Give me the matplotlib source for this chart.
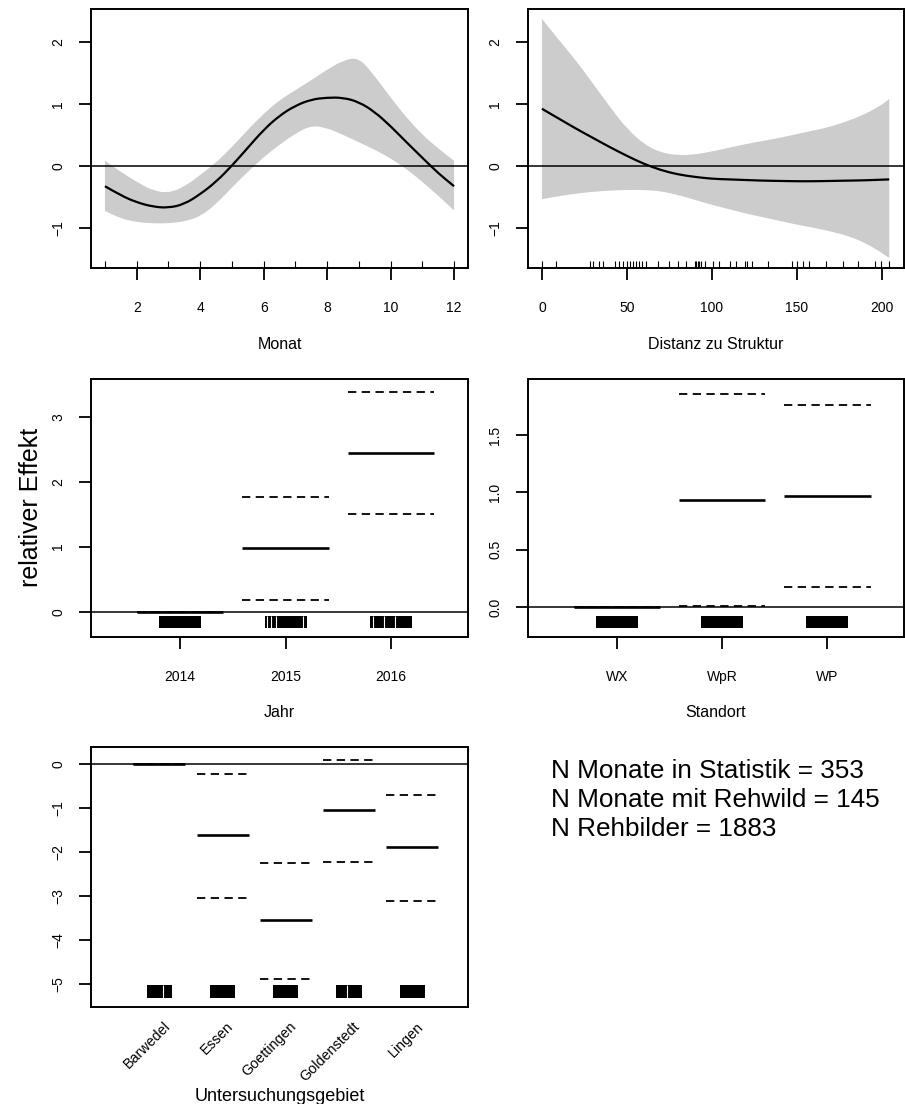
import matplotlib
matplotlib.use("Agg")
import matplotlib.pyplot as plt
from matplotlib.patches import Rectangle, PathPatch
from matplotlib.path import Path
from matplotlib.transforms import blended_transform_factory, ScaledTranslation

plt.rcParams['font.family'] = ['Liberation Sans', 'DejaVu Sans']

# --- Monat (smooth term) ---
monat_x = [1, 1.5, 2, 2.5, 3, 3.5, 4, 4.5, 5, 5.5, 6, 6.5, 7, 7.5, 8, 8.5,
           9, 9.5, 10, 10.5, 11, 11.5, 12]
monat_fit = [-0.33, -0.48, -0.59, -0.66, -0.68, -0.62, -0.46, -0.26, 0.00, 0.29,
             0.58, 0.81, 0.97, 1.07, 1.10, 1.10, 1.03, 0.87, 0.64, 0.38, 0.13,
             -0.12, -0.33]
monat_hi = [0.08, -0.10, -0.26, -0.40, -0.44, -0.34, -0.15, 0.05, 0.30, 0.58,
            0.84, 1.06, 1.22, 1.38, 1.55, 1.70, 1.75, 1.45, 1.10, 0.78, 0.50,
            0.28, 0.08]
monat_lo = [-0.73, -0.85, -0.91, -0.93, -0.93, -0.90, -0.82, -0.62, -0.35, -0.10,
            0.14, 0.34, 0.52, 0.65, 0.61, 0.50, 0.38, 0.26, 0.12, -0.05, -0.26,
            -0.48, -0.72]
monat_rug = [1, 2, 3, 4, 5, 6, 7, 8, 9, 10, 11, 12]

# --- Distanz zu Struktur (smooth term) ---
dist_x = [0, 10, 20, 30, 40, 50, 60, 70, 80, 90, 100, 110, 120, 130, 140,
          150, 160, 170, 180, 190, 200, 204.5]
dist_fit = [0.92, 0.76, 0.60, 0.45, 0.30, 0.16, 0.03, -0.07, -0.14, -0.18, -0.21,
            -0.22, -0.23, -0.24, -0.245, -0.25, -0.25, -0.245, -0.24, -0.235,
            -0.225, -0.22]
dist_hi = [2.37, 2.03, 1.70, 1.33, 0.95, 0.60, 0.35, 0.21, 0.17, 0.18, 0.23,
           0.29, 0.35, 0.40, 0.45, 0.51, 0.57, 0.63, 0.72, 0.83, 0.98, 1.08]
dist_lo = [-0.54, -0.49, -0.45, -0.42, -0.40, -0.39, -0.39, -0.41, -0.47, -0.55,
           -0.63, -0.70, -0.77, -0.83, -0.89, -0.95, -1.00, -1.06, -1.13, -1.24,
           -1.40, -1.49]
dist_rug = [0, 8.4, 28.5, 30, 33.4, 35.8, 43.2, 45.6, 47.5, 50.1, 51.8, 53.4,
            55.3, 57.3, 59.2, 61.2, 68.4, 74.9, 80.3, 84.7, 90.1, 90.9, 91.7,
            92.5, 93.5, 96.0, 100.7, 104.2, 110.5, 114.0, 119.5, 120.8, 123.8,
            133.1, 147.2, 150.1, 153.7, 157.4, 167.4, 177.2, 186.3, 196.1,
            199.6, 204.5]

# --- Jahr (factor) ---
jahr_levels = ['2014', '2015', '2016']
jahr_fit = [0.0, 0.975, 2.44]
jahr_hi = [0.0, 1.77, 3.38]
jahr_lo = [0.0, 0.18, 1.50]
jahr_gaps = [[], [-0.175, -0.142, -0.095, 0.167], [-0.17, -0.07, 0.04]]

# --- Standort (factor) ---
stand_levels = ['WX', 'WpR', 'WP']
stand_fit = [0.0, 0.935, 0.968]
stand_hi = [0.0, 1.86, 1.766]
stand_lo = [0.0, 0.008, 0.174]
stand_gaps = [[], [], []]

# --- Untersuchungsgebiet (factor) ---
gebiet_levels = ['Barwedel', 'Essen', 'Goettingen', 'Goldenstedt', 'Lingen']
gebiet_fit = [0.0, -1.62, -3.55, -1.05, -1.89]
gebiet_hi = [0.0, -0.22, -2.24, 0.09, -0.70]
gebiet_lo = [0.0, -3.04, -4.89, -2.23, -3.11]
gebiet_gaps = [[0.06], [], [], [-0.04], []]

stats_lines = ['N Monate in Statistik = 353',
               'N Monate mit Rehwild = 145',
               'N Rehbilder = 1883']

W, H = 905, 1104
fig = plt.figure(figsize=(W / 100, H / 100), dpi=100)


def panel(l, t, r, b):
    ax = fig.add_axes([l / W, 1 - b / H, (r - l) / W, (b - t) / H])
    for s in ax.spines.values():
        s.set_linewidth(1.4)
    ax.tick_params(length=8.6, width=1.3, labelsize=10, color='black')
    ax.tick_params(axis='y', labelrotation=90, pad=10)
    ax.tick_params(axis='x', pad=15)
    return ax


def fix_ylabels(ax):
    for lab in ax.get_yticklabels():
        lab.set_va('center')


def curve(x, y, first=True):
    # quadratic bezier through midpoints -> smooth curve in data coordinates
    pts = list(zip(x, y))
    verts = [pts[0]]
    codes = [Path.MOVETO if first else Path.LINETO]
    for i in range(1, len(pts) - 1):
        mid = ((pts[i][0] + pts[i + 1][0]) / 2, (pts[i][1] + pts[i + 1][1]) / 2)
        verts += [pts[i], mid]
        codes += [Path.CURVE3, Path.CURVE3]
    verts.append(pts[-1])
    codes.append(Path.LINETO)
    return verts, codes


def smooth_panel(ax, x, fit, lo, hi, rug):
    v1, c1 = curve(x, hi)
    v2, c2 = curve(x[::-1], lo[::-1], first=False)
    band = Path(v1 + v2 + [v1[0]], c1 + c2 + [Path.CLOSEPOLY])
    ax.add_patch(PathPatch(band, facecolor='#cccccc', lw=0))
    vf, cf = curve(x, fit)
    ax.add_patch(PathPatch(Path(vf, cf), facecolor='none', edgecolor='black',
                           lw=1.6))
    ax.axhline(0, color='black', lw=1.1)
    tr = blended_transform_factory(ax.transData, ax.transAxes)
    ax.vlines(rug, 0, 0.027, color='black', lw=0.8, transform=tr)
    ax.set_ylim(-1.65, 2.53)
    ax.set_yticks([-1, 0, 1, 2])
    fix_ylabels(ax)


def factor_panel(ax, fit, lo, hi, gaps):
    pos = list(range(1, len(fit) + 1))
    left = [p - 0.41 for p in pos]
    right = [p + 0.41 for p in pos]
    dash = (0, (4.6, 3.0))
    ax.hlines(hi, left, right, color='black', lw=1.3, linestyles=[dash])
    ax.hlines(lo, left, right, color='black', lw=1.3, linestyles=[dash])
    ax.hlines(fit, left, right, color='black', lw=1.9)
    ax.axhline(0, color='black', lw=1.1)
    tr = blended_transform_factory(ax.transData, ax.transAxes)
    for p, g in zip(pos, gaps):
        ax.add_patch(Rectangle((p - 0.2, 0.034), 0.4, 0.049, color='black',
                               lw=0, transform=tr))
        if g:
            ax.vlines([p + o for o in g], 0.034, 0.083, color='white', lw=0.8,
                      transform=tr)
    ax.set_xlim(0.155, len(fit) + 0.728)
    return pos


# Top left: Monat
ax1 = panel(91, 9, 468, 268)
smooth_panel(ax1, monat_x, monat_fit, monat_lo, monat_hi, monat_rug)
ax1.set_xlim(0.56, 12.44)
ax1.set_xticks([2, 4, 6, 8, 10, 12])
ax1.set_xlabel('Monat', fontsize=11.5)
ax1.xaxis.set_label_coords(0.5, -0.265)

# Top right: Distanz zu Struktur
ax2 = panel(528, 9, 904, 268)
smooth_panel(ax2, dist_x, dist_fit, dist_lo, dist_hi, dist_rug)
ax2.set_xlim(-8.2, 213.2)
ax2.set_xticks([0, 50, 100, 150, 200])
ax2.set_xlabel('Distanz zu Struktur', fontsize=11.5)
ax2.xaxis.set_label_coords(0.5, -0.265)

# Middle left: Jahr
ax3 = panel(91, 379, 468, 637)
pos = factor_panel(ax3, jahr_fit, jahr_lo, jahr_hi, jahr_gaps)
ax3.set_ylim(-0.39, 3.58)
ax3.set_yticks([0, 1, 2, 3])
fix_ylabels(ax3)
ax3.set_xticks(pos)
ax3.set_xticklabels(jahr_levels)
ax3.set_xlabel('Jahr', fontsize=11.5)
ax3.xaxis.set_label_coords(0.5, -0.265)

# Middle right: Standort
ax4 = panel(528, 379, 904, 637)
pos = factor_panel(ax4, stand_fit, stand_lo, stand_hi, stand_gaps)
ax4.set_ylim(-0.262, 1.99)
ax4.set_yticks([0, 0.5, 1.0, 1.5])
ax4.set_yticklabels(['0.0', '0.5', '1.0', '1.5'])
fix_ylabels(ax4)
ax4.set_xticks(pos)
ax4.set_xticklabels(stand_levels)
ax4.set_xlabel('Standort', fontsize=11.5)
ax4.xaxis.set_label_coords(0.5, -0.265)

# Bottom left: Untersuchungsgebiet
ax5 = panel(91, 747, 468, 1007)
pos = factor_panel(ax5, gebiet_fit, gebiet_lo, gebiet_hi, gebiet_gaps)
ax5.set_xlim(-0.08, 5.88)
ax5.set_ylim(-5.52, 0.386)
ax5.set_yticks([0, -1, -2, -3, -4, -5])
fix_ylabels(ax5)
ax5.set_xticks([])
lab_tr = blended_transform_factory(ax5.transData, ax5.transAxes) + \
    ScaledTranslation(0.087, 0, fig.dpi_scale_trans)
for p, name in zip(pos, gebiet_levels):
    ax5.text(p, -0.066, name, rotation=45, ha='right', va='center',
             rotation_mode='anchor', fontsize=10.3, transform=lab_tr)
ax5.set_xlabel('Untersuchungsgebiet', fontsize=13)
ax5.xaxis.set_label_coords(0.5, -0.31)

fig.text(31 / W, 1 - 507 / H, 'relativer Effekt', rotation=90, ha='center',
         va='center', fontsize=18)

for i, line in enumerate(stats_lines):
    fig.text(551 / W, 1 - (778 + 29 * i) / H, line, fontsize=18.8,
             ha='left', va='baseline')

fig.savefig('out.png', dpi=100)
